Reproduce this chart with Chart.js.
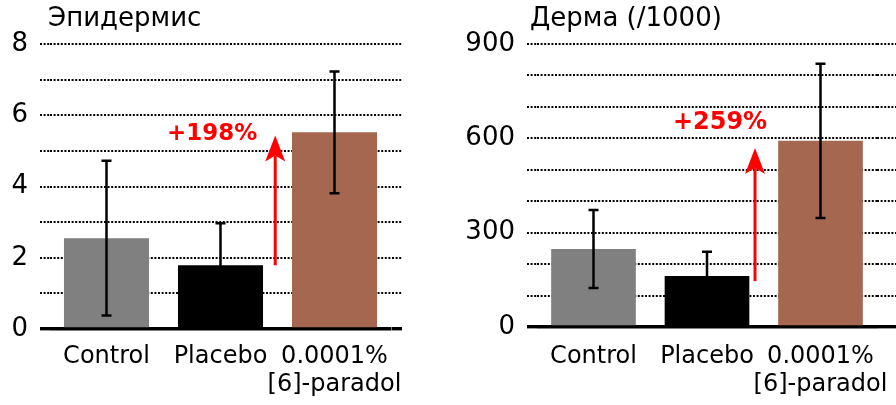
<!DOCTYPE html>
<html>
<head>
<meta charset="utf-8">
<script src="https://cdn.jsdelivr.net/npm/chart.js@4/dist/chart.umd.min.js"></script>
<style>
  body { margin: 0; background: #fff; }
  #left { position: absolute; left: 0; top: 0; }
  #right { position: absolute; left: 440px; top: 0; }
</style>
</head>
<body>
<canvas id="left" width="402" height="405"></canvas>
<canvas id="right" width="456" height="405"></canvas>
<script>
// данные
const categories = ['Control', 'Placebo', ['0.0001%', '[6]-paradol']];
const barColors = ['#808080', '#000000', '#a5674f'];

const epidermisMeans = [2.55, 1.79, 5.52];
const epidermisErrors = [2.17, 1.18, 1.71];
const epidermisTicks = [0, 2, 4, 6, 8];
const epidermisArrow = [1.79, 5.43];
const epidermisLabel = '+198%';

const dermaMeans = [248, 162, 592];
const dermaErrors = [124, 77, 245];
const dermaTicks = [0, 300, 600, 900];
const dermaArrow = [146, 569];
const dermaLabel = '+259%';

const FONT = 'DejaVu Sans';

// усы погрешностей
const errorBars = {
  id: 'errorBars',
  afterDatasetsDraw(chart, args, opts) {
    const { ctx, scales: { x, y } } = chart;
    ctx.save();
    ctx.strokeStyle = '#000';
    ctx.lineWidth = 2.5;
    opts.means.forEach((m, i) => {
      const px = x.getPixelForValue(i);
      const top = y.getPixelForValue(m + opts.errors[i]);
      const bot = y.getPixelForValue(m - opts.errors[i]);
      ctx.beginPath();
      ctx.moveTo(px, top);
      ctx.lineTo(px, bot);
      ctx.moveTo(px - 5, top);
      ctx.lineTo(px + 5, top);
      ctx.moveTo(px - 5, bot);
      ctx.lineTo(px + 5, bot);
      ctx.stroke();
    });
    ctx.restore();
  },
};

// красная стрелка и подпись
const arrow = {
  id: 'arrow',
  afterDatasetsDraw(chart, args, opts) {
    const { ctx, scales: { x, y } } = chart;
    const px = x.getPixelForValue(opts.at);
    const y0 = y.getPixelForValue(opts.values[0]);
    const y1 = y.getPixelForValue(opts.values[1]);
    ctx.save();
    ctx.strokeStyle = '#ff0000';
    ctx.fillStyle = '#ff0000';
    ctx.lineWidth = 3;
    ctx.beginPath();
    ctx.moveTo(px, y0);
    ctx.lineTo(px, y1 + 20);
    ctx.stroke();
    ctx.beginPath();
    ctx.moveTo(px, y1);
    ctx.lineTo(px + 10, y1 + 26);
    ctx.lineTo(px, y1 + 20);
    ctx.lineTo(px - 10, y1 + 26);
    ctx.closePath();
    ctx.fill();
    ctx.font = 'bold ' + opts.size + 'px "' + FONT + '"';
    ctx.textAlign = opts.align;
    ctx.textBaseline = 'middle';
    ctx.fillText(opts.label, px + opts.dx, y1 + opts.dy);
    ctx.restore();
  },
};

// заголовок панели
const panelTitle = {
  id: 'panelTitle',
  afterDraw(chart, args, opts) {
    const { ctx } = chart;
    ctx.save();
    ctx.fillStyle = '#000';
    ctx.font = '26px "' + FONT + '"';
    ctx.textBaseline = 'middle';
    ctx.fillText(opts.text, opts.x, 19);
    ctx.restore();
  },
};

function dashed(c) {
  return c.tick && c.tick.value === 0 ? [] : [2, 1.6];
}

function gridWidth(c) {
  return c.tick && c.tick.value === 0 ? 3.4 : 2;
}

function makeChart(el, means, errors, ticks, max, step, geo) {
  return new Chart(el, {
    type: 'bar',
    data: {
      labels: categories,
      datasets: [
        {
          data: means,
          backgroundColor: barColors,
          categoryPercentage: 1,
          barPercentage: 0.746,
        },
      ],
    },
    options: {
      responsive: false,
      animation: false,
      layout: { padding: { top: 44 } },
      plugins: {
        legend: { display: false },
        tooltip: { enabled: false },
        errorBars: { means: means, errors: errors },
        arrow: geo.arrow,
        panelTitle: geo.title,
      },
      scales: {
        x: {
          grid: { display: false, drawTicks: false },
          border: { display: false },
          ticks: {
            color: '#000',
            padding: geo.labelPad,
            maxRotation: 0,
            autoSkip: false,
            font: { family: FONT, size: 24, lineHeight: '28px' },
          },
          afterFit(s) {
            s.height = geo.xHeight;
            s.paddingLeft = 0;
            s.paddingRight = 0;
          },
        },
        y: {
          min: 0,
          max: max,
          ticks: {
            stepSize: step,
            autoSkip: false,
            color: '#000',
            padding: 12,
            font: { family: FONT, size: 26 },
            callback: (v) => (ticks.some((t) => Math.abs(t - v) < 1e-6) ? v : ''),
          },
          grid: {
            color: '#000',
            lineWidth: gridWidth,
            tickLength: geo.leftTick,
            tickBorderDash: dashed,
          },
          border: { display: false, dash: dashed },
          afterFit(s) { s.width = geo.yWidth; },
        },
        y2: {
          type: 'linear',
          position: 'right',
          min: 0,
          max: max,
          ticks: { stepSize: step, display: false, autoSkip: false },
          grid: {
            drawOnChartArea: false,
            color: '#000',
            lineWidth: gridWidth,
            tickLength: geo.rightTick,
            tickBorderDash: dashed,
          },
          border: { display: false, dash: dashed },
          afterFit(s) { s.width = geo.rightTick; },
        },
      },
    },
    plugins: [errorBars, arrow, panelTitle],
  });
}

// Эпидермис
const epidermisChart = makeChart(
  document.getElementById('left'),
  epidermisMeans, epidermisErrors, epidermisTicks, 8, 1,
  {
    xHeight: 76, labelPad: 14, yWidth: 49.5, leftTick: 9.5, rightTick: 10.5,
    title: { text: 'Эпидермис', x: 48 },
    arrow: { at: 1.48, values: epidermisArrow, label: epidermisLabel, align: 'right', dx: -18, dy: -2, size: 23 },
  }
);

// Дерма
const dermaChart = makeChart(
  document.getElementById('right'),
  dermaMeans, dermaErrors, dermaTicks, 900, 100,
  {
    xHeight: 78, labelPad: 15.5, yWidth: 96.75, leftTick: 9.75, rightTick: 18.75,
    title: { text: 'Дерма (/1000)', x: 90 },
    arrow: { at: 1.423, values: dermaArrow, label: dermaLabel, align: 'center', dx: -35, dy: -25, size: 24 },
  }
);
</script>
</body>
</html>
